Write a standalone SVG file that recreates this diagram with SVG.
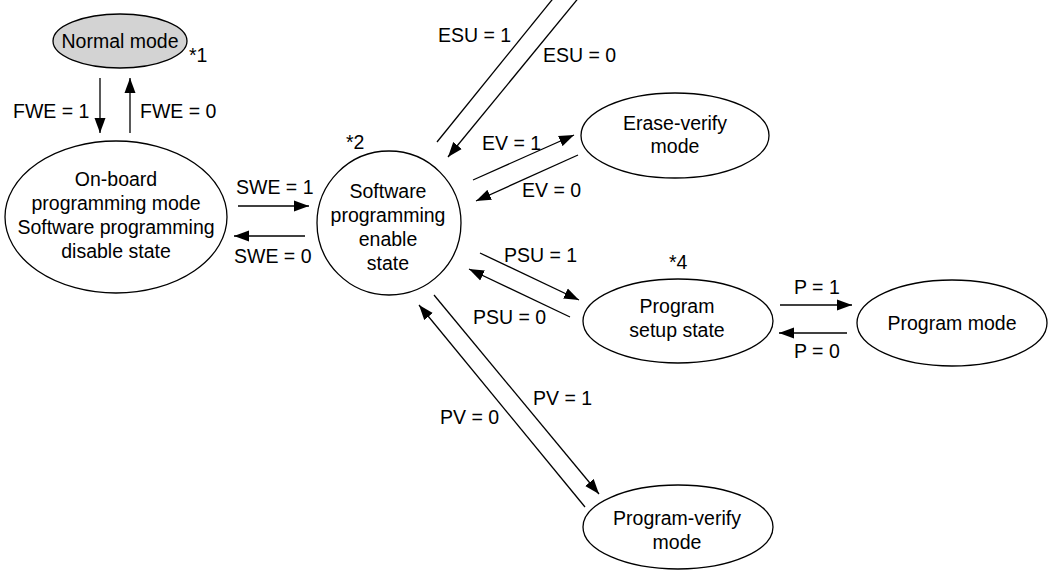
<svg xmlns="http://www.w3.org/2000/svg" width="1052" height="570" viewBox="0 0 1052 570">
<defs>
<marker id="ah" markerUnits="userSpaceOnUse" markerWidth="16" markerHeight="12" viewBox="0 0 16 12" refX="15" refY="6" orient="auto">
<path d="M0,0.5 L15,6 L0,11.5 Z" fill="#000"/>
</marker>
<style>
.n{fill:#fff;stroke:#000;stroke-width:1.3}
.g{fill:#d3d3d3}
.t{font-family:"Liberation Sans",Arial,sans-serif;font-size:19.5px;fill:#000}
.c{text-anchor:middle}
.e line{stroke:#000;stroke-width:1.3;marker-end:url(#ah)}
.e line.p{marker-end:none}
</style>
</defs>
<rect width="1052" height="570" fill="#fff"/>
<g id="normal">
<ellipse class="n g" cx="120" cy="41" rx="67" ry="27"/>
<text class="t c" x="120" y="48">Normal mode</text>
<text class="t" x="189" y="62">*1</text>
</g>
<g id="onboard">
<ellipse class="n" cx="116" cy="217" rx="111" ry="76"/>
<text class="t c" x="116" y="186">On-board</text>
<text class="t c" x="116" y="210">programming mode</text>
<text class="t c" x="116" y="234">Software programming</text>
<text class="t c" x="116" y="258">disable state</text>
</g>
<g id="swenable">
<circle class="n" cx="389" cy="223" r="72"/>
<text class="t c" x="388" y="198">Software</text>
<text class="t c" x="388" y="222">programming</text>
<text class="t c" x="388" y="246">enable</text>
<text class="t c" x="388" y="270">state</text>
<text class="t" x="346" y="149">*2</text>
</g>
<g id="eraseverify">
<ellipse class="n" cx="675" cy="135.5" rx="94" ry="42.5"/>
<text class="t c" x="675" y="130">Erase-verify</text>
<text class="t c" x="675" y="153">mode</text>
</g>
<g id="progsetup">
<ellipse class="n" cx="678" cy="321" rx="95" ry="42"/>
<text class="t c" x="677" y="313">Program</text>
<text class="t c" x="677" y="337">setup state</text>
<text class="t" x="669" y="269">*4</text>
</g>
<g id="progmode">
<ellipse class="n" cx="952" cy="323" rx="95" ry="43"/>
<text class="t c" x="952" y="330">Program mode</text>
</g>
<g id="progverify">
<ellipse class="n" cx="678" cy="527" rx="95" ry="42"/>
<text class="t c" x="677" y="525">Program-verify</text>
<text class="t c" x="677" y="549">mode</text>
</g>
<g id="connectors" class="e">
<line x1="100" y1="78" x2="100" y2="133"/>
<line x1="130" y1="133" x2="130" y2="78"/>
<line x1="238" y1="206" x2="309" y2="206"/>
<line x1="305" y1="236" x2="234" y2="236"/>
<line class="p" x1="437" y1="142" x2="560" y2="-10"/>
<line x1="585" y1="-10" x2="448" y2="157"/>
<line x1="473" y1="180" x2="574" y2="135"/>
<line x1="578" y1="155" x2="476" y2="201"/>
<line x1="480" y1="253" x2="579" y2="300"/>
<line x1="570" y1="317" x2="469" y2="269"/>
<line x1="780" y1="305" x2="852" y2="305"/>
<line x1="847" y1="333" x2="779" y2="333"/>
<line x1="434" y1="295" x2="599" y2="494"/>
<line x1="585" y1="507" x2="419" y2="305"/>
</g>
<g id="labels">
<text class="t" x="13" y="118">FWE = 1</text>
<text class="t" x="140" y="118">FWE = 0</text>
<text class="t" x="236" y="194">SWE = 1</text>
<text class="t" x="234" y="263">SWE = 0</text>
<text class="t" x="438" y="42">ESU = 1</text>
<text class="t" x="543" y="62">ESU = 0</text>
<text class="t" x="482" y="150">EV = 1</text>
<text class="t" x="522" y="197">EV = 0</text>
<text class="t" x="504" y="262">PSU = 1</text>
<text class="t" x="473" y="324">PSU = 0</text>
<text class="t" x="794" y="294">P = 1</text>
<text class="t" x="794" y="358">P = 0</text>
<text class="t" x="533" y="405">PV = 1</text>
<text class="t" x="440" y="424">PV = 0</text>
</g>
</svg>
